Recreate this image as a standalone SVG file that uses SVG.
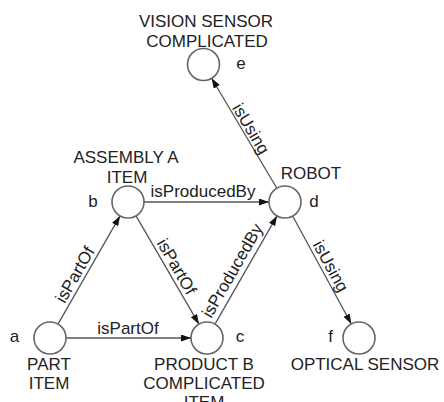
<svg xmlns="http://www.w3.org/2000/svg" width="444" height="402" viewBox="0 0 444 402">
<defs>
<style>
text{font-family:"Liberation Sans",Arial,sans-serif;font-size:17px;fill:#222;text-anchor:middle}
.node circle{fill:#fff;stroke:#666;stroke-width:1.6}
.edge{stroke:#555;stroke-width:1.3;fill:none;marker-end:url(#arr)}
</style>
<marker id="arr" markerUnits="userSpaceOnUse" markerWidth="11" markerHeight="8" refX="10" refY="3.5" orient="auto">
<path d="M0,0 L10,3.5 L0,7 z" fill="#111"/>
</marker>
</defs>
<rect width="444" height="402" fill="#fff"/>
<g id="connectors">
<line class="edge" x1="57.96" y1="324.12" x2="120.04" y2="215.88"/>
<line class="edge" x1="136.04" y1="215.83" x2="198.96" y2="324.17"/>
<line class="edge" x1="66" y1="338" x2="191" y2="338"/>
<line class="edge" x1="144" y1="202" x2="269" y2="202"/>
<line class="edge" x1="214.96" y1="324.12" x2="277.04" y2="215.88"/>
<line class="edge" x1="276.84" y1="188.23" x2="211.66" y2="78.27"/>
<line class="edge" x1="292.65" y1="216.06" x2="351.35" y2="323.94"/>
<text transform="translate(80,277.5) rotate(-60.2)">isPartOf</text>
<text transform="translate(171.7,269.5) rotate(59.8)">isPartOf</text>
<text x="128" y="334">isPartOf</text>
<text x="203" y="197">isProducedBy</text>
<text transform="translate(237.3,273.5) rotate(-60.2)">isProducedBy</text>
<text transform="translate(246,131.6) rotate(59.3)">isUsing</text>
<text transform="translate(325.6,268.9) rotate(61.4)">isUsing</text>
</g>
<g id="node-a" class="node">
<circle cx="50" cy="338" r="16"/>
<text x="14.5" y="342">a</text>
<text x="49" y="370">PART</text>
<text x="49" y="389">ITEM</text>
</g>
<g id="node-b" class="node">
<circle cx="128" cy="202" r="16"/>
<text x="93" y="207">b</text>
<text x="126" y="163">ASSEMBLY A</text>
<text x="127" y="183">ITEM</text>
</g>
<g id="node-c" class="node">
<circle cx="207" cy="338" r="16"/>
<text x="240" y="342">c</text>
<text x="204" y="370">PRODUCT B</text>
<text x="204" y="389">COMPLICATED</text>
<text x="204" y="408">ITEM</text>
</g>
<g id="node-d" class="node">
<circle cx="285" cy="202" r="16"/>
<text x="314" y="207">d</text>
<text x="311" y="179">ROBOT</text>
</g>
<g id="node-e" class="node">
<circle cx="203.5" cy="64.5" r="16"/>
<text x="241" y="69">e</text>
<text x="206" y="27">VISION SENSOR</text>
<text x="207" y="47">COMPLICATED</text>
</g>
<g id="node-f" class="node">
<circle cx="359" cy="338" r="16"/>
<text x="330.5" y="342">f</text>
<text x="365" y="370">OPTICAL SENSOR</text>
</g>
</svg>
